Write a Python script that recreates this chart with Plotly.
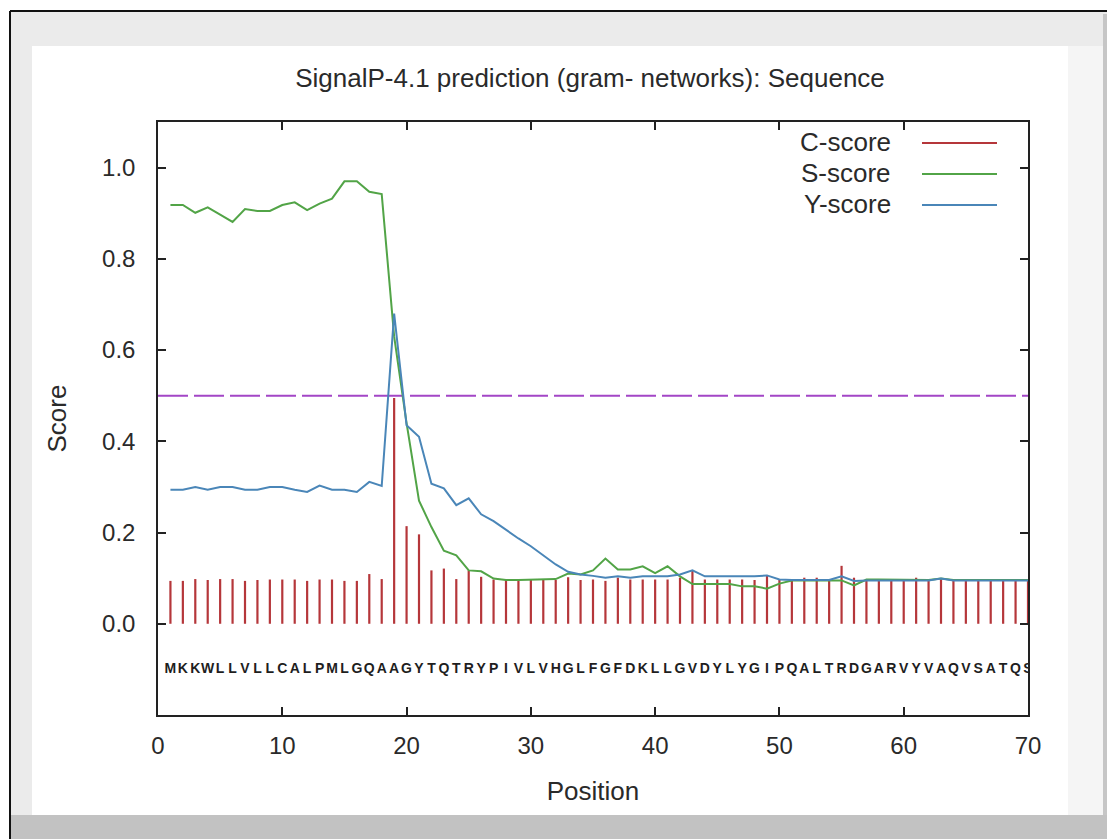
import plotly.graph_objects as go

# ---------------- data ----------------
positions = list(range(1, 71))
sequence = list("MKKWLLVLLCALPMLGQAAGYTQTRYPIVLVHGLFGFDKLLGVDYLYGIPQALTRDGARVYVAQVSATQS")

c_score = [0.094, 0.094, 0.098, 0.096, 0.098, 0.098, 0.094, 0.096, 0.097, 0.097,
           0.097, 0.094, 0.097, 0.097, 0.094, 0.094, 0.109, 0.098, 0.495, 0.214,
           0.196, 0.117, 0.121, 0.098, 0.117, 0.103, 0.097, 0.096, 0.096, 0.096,
           0.096, 0.096, 0.102, 0.096, 0.097, 0.094, 0.101, 0.097, 0.097, 0.097,
           0.097, 0.101, 0.117, 0.097, 0.097, 0.097, 0.097, 0.096, 0.107, 0.097,
           0.096, 0.101, 0.101, 0.096, 0.127, 0.101, 0.096, 0.096, 0.096, 0.097,
           0.101, 0.096, 0.099, 0.096, 0.096, 0.096, 0.096, 0.096, 0.096, 0.096]

s_score = [0.918, 0.918, 0.901, 0.913, 0.897, 0.881, 0.909, 0.905, 0.905, 0.918,
           0.924, 0.907, 0.921, 0.932, 0.970, 0.970, 0.947, 0.942, 0.630, 0.440,
           0.270, 0.212, 0.160, 0.150, 0.117, 0.115, 0.099, 0.096, 0.096, 0.097,
           0.097, 0.098, 0.110, 0.108, 0.117, 0.143, 0.119, 0.119, 0.126, 0.111,
           0.126, 0.104, 0.087, 0.087, 0.087, 0.087, 0.082, 0.082, 0.077, 0.088,
           0.095, 0.095, 0.095, 0.095, 0.095, 0.084, 0.097, 0.097, 0.097, 0.096,
           0.096, 0.096, 0.099, 0.096, 0.096, 0.096, 0.096, 0.096, 0.096, 0.096]

y_score = [0.294, 0.294, 0.300, 0.294, 0.300, 0.300, 0.294, 0.294, 0.300, 0.300,
           0.294, 0.289, 0.303, 0.294, 0.294, 0.289, 0.311, 0.302, 0.680, 0.435,
           0.410, 0.307, 0.297, 0.260, 0.275, 0.240, 0.225, 0.205, 0.187, 0.170,
           0.150, 0.130, 0.114, 0.108, 0.105, 0.101, 0.104, 0.101, 0.104, 0.104,
           0.104, 0.108, 0.117, 0.104, 0.104, 0.104, 0.104, 0.104, 0.106, 0.097,
           0.096, 0.096, 0.096, 0.096, 0.104, 0.094, 0.095, 0.095, 0.095, 0.095,
           0.095, 0.095, 0.099, 0.095, 0.095, 0.095, 0.095, 0.095, 0.095, 0.095]

threshold = 0.5
seq_label_y = -0.1
x_range = [0, 70]
y_range = [-0.2, 1.1]
x_ticks = [0, 10, 20, 30, 40, 50, 60, 70]
y_ticks = [0.0, 0.2, 0.4, 0.6, 0.8, 1.0]
y_ticktext = ["0.0", "0.2", "0.4", "0.6", "0.8", "1.0"]
series_names = ["C-score", "S-score", "Y-score"]

# ---------------- style ----------------
VW, VH = 1115, 839          # browser viewport
OFF = 8                     # default page body margin
W, H = VW - OFF, VH - OFF   # figure size so it ends at viewport edge
ML, MR, MT, MB = 158 - OFF, 87, 122 - OFF, 124
PW, PH = W - ML - MR, H - MT - MB
FONT = "Liberation Sans, Arial, sans-serif"
C_COL, S_COL, Y_COL, T_COL = "#b5363a", "#52a447", "#4a86b8", "#a346c6"
TXT = "#2a2a2a"


def px(x):  # viewport pixel -> paper fraction
    return (x - OFF - ML) / PW


def py(y):
    return (H - MB - (y - OFF)) / PH


# C-score drawn as vertical impulses
cx, cy = [], []
for p, v in zip(positions, c_score):
    cx += [p, p, None]
    cy += [0, v, None]

fig = go.Figure()
fig.add_trace(go.Scatter(x=[x_range[0], x_range[1]], y=[threshold, threshold], mode="lines",
                         line=dict(color=T_COL, width=2, dash="30px,6px"),
                         showlegend=False, hoverinfo="skip"))
fig.add_trace(go.Scatter(x=cx, y=cy, mode="lines", name=series_names[0],
                         line=dict(color=C_COL, width=2.2), showlegend=False))
fig.add_trace(go.Scatter(x=positions, y=s_score, mode="lines", name=series_names[1],
                         line=dict(color=S_COL, width=2), showlegend=False))
fig.add_trace(go.Scatter(x=positions, y=y_score, mode="lines", name=series_names[2],
                         line=dict(color=Y_COL, width=2), showlegend=False))
fig.add_trace(go.Scatter(x=positions, y=[seq_label_y] * len(positions), mode="text",
                         text=sequence, textposition="middle center",
                         textfont=dict(family=FONT, size=14, color="#1e1e1e", weight="bold"),
                         showlegend=False, hoverinfo="skip"))

shapes = [
    dict(type="rect", xref="paper", yref="paper", x0=px(10), x1=px(1115), y0=py(839), y1=py(11),
         fillcolor="#ebebeb", line=dict(width=0), layer="below"),
    dict(type="rect", xref="paper", yref="paper", x0=px(1103), x1=px(1115), y0=py(839), y1=py(14),
         fillcolor="#c6c6c6", line=dict(width=0), layer="below"),
    dict(type="rect", xref="paper", yref="paper", x0=px(10), x1=px(1115), y0=py(839), y1=py(815),
         fillcolor="#c2c2c2", line=dict(width=0), layer="below"),
    dict(type="rect", xref="paper", yref="paper", x0=px(1068), x1=px(1103), y0=py(815), y1=py(46),
         fillcolor="#f5f5f5", line=dict(width=0), layer="below"),
    dict(type="rect", xref="paper", yref="paper", x0=px(32), x1=px(1068), y0=py(815), y1=py(46),
         fillcolor="#ffffff", line=dict(width=0), layer="below"),
    dict(type="line", xref="paper", yref="paper", x0=px(10), x1=px(10), y0=py(839), y1=py(11),
         line=dict(color="#111", width=2)),
    dict(type="line", xref="paper", yref="paper", x0=px(10), x1=px(1115), y0=py(11), y1=py(11),
         line=dict(color="#111", width=2)),
]

# manual legend (text then line sample, as in gnuplot)
annotations = []
leg_y = [142, 173, 204]
for name, col, yy in zip(series_names, [C_COL, S_COL, Y_COL], leg_y):
    annotations.append(dict(x=px(893), y=py(yy), xref="paper", yref="paper", text=name,
                            showarrow=False, xanchor="right", yanchor="middle",
                            font=dict(family=FONT, size=26, color=TXT)))
    shapes.append(dict(type="line", xref="paper", yref="paper", x0=px(922), x1=px(997),
                       y0=py(yy + 1), y1=py(yy + 1), line=dict(color=col, width=2)))

fig.update_layout(
    width=W, height=H, autosize=False,
    margin=dict(l=ML, r=MR, t=MT, b=MB),
    paper_bgcolor="#ffffff", plot_bgcolor="#ffffff",
    font=dict(family=FONT, color=TXT),
    title=dict(text="SignalP-4.1 prediction (gram- networks): Sequence",
               x=(590 - OFF) / W, xanchor="center",
               y=1 - (78 - OFF) / H, yanchor="middle", yref="container", xref="container",
               font=dict(family=FONT, size=26, color=TXT)),
    shapes=shapes, annotations=annotations,
    showlegend=False,
)
fig.update_xaxes(range=x_range, tickvals=x_ticks, ticks="inside", ticklen=8, tickwidth=1.5,
                 tickcolor="#222", showline=True, linecolor="#222", linewidth=1.5, mirror="ticks",
                 showgrid=False, zeroline=False, tickfont=dict(family=FONT, size=24, color=TXT),
                 ticklabelstandoff=8,
                 title=dict(text="Position", font=dict(family=FONT, size=26, color=TXT), standoff=24))
fig.update_yaxes(range=y_range, tickvals=y_ticks, ticktext=y_ticktext, ticks="inside", ticklen=8,
                 tickwidth=1.5, tickcolor="#222", showline=True, linecolor="#222", linewidth=1.5,
                 mirror="ticks", showgrid=False, zeroline=False,
                 tickfont=dict(family=FONT, size=24, color=TXT), ticklabelstandoff=16,
                 title=dict(text="Score", font=dict(family=FONT, size=26, color=TXT), standoff=28))

fig.write_html("out.html")
